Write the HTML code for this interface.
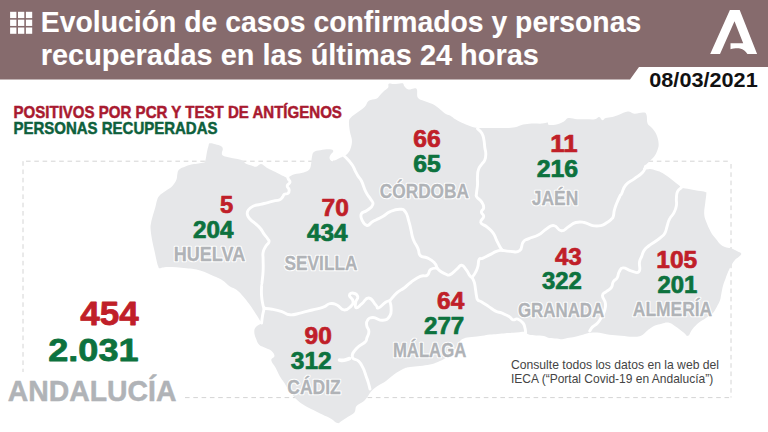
<!DOCTYPE html>
<html lang="es"><head><meta charset="utf-8"><title>Evolución de casos confirmados y personas recuperadas</title>
<style>
html,body{margin:0;padding:0;background:#fff;}
body{width:768px;height:432px;overflow:hidden;}
svg{display:block;font-family:"Liberation Sans",Arial,sans-serif;}
</style></head><body>
<svg width="768" height="432" viewBox="0 0 768 432">
<path d="M0 0H768V67H639L630 79.5H0Z" fill="#866b6d"/>
<rect x="10.1" y="11.80" width="6.3" height="6.3" fill="#fff"/>
<rect x="18.0" y="11.80" width="6.3" height="6.3" fill="#fff"/>
<rect x="25.9" y="11.80" width="6.3" height="6.3" fill="#fff"/>
<rect x="10.1" y="19.65" width="6.3" height="6.3" fill="#fff"/>
<rect x="18.0" y="19.65" width="6.3" height="6.3" fill="#fff"/>
<rect x="25.9" y="19.65" width="6.3" height="6.3" fill="#fff"/>
<rect x="10.1" y="27.50" width="6.3" height="6.3" fill="#fff"/>
<rect x="18.0" y="27.50" width="6.3" height="6.3" fill="#fff"/>
<rect x="25.9" y="27.50" width="6.3" height="6.3" fill="#fff"/>
<path d="M729.9 10.1H739.7L757.1 54H747.4C745.5 51 743.5 49.2 740 48.5C737 48 733 48.6 730.5 49.2V43.3H743.2L734.5 21.3L720 54H710.2Z" fill="#fff"/>
<path d="M26 161.2H731M23 161.2V372M731 164V397.5M185 397.6H731" fill="none" stroke="#d4d4d4" stroke-width="1" stroke-dasharray="4.6 3.7"/>
<path d="M158.5 267.1C158.0 266.0 157.8 265.7 157.0 262.5C156.2 259.3 155.5 255.6 154.5 251.0C153.5 246.4 152.8 243.8 152.0 239.4C151.2 235.0 150.8 232.2 150.6 229.0C150.4 225.8 150.5 226.0 151.0 223.2C151.5 220.4 152.1 218.3 153.0 215.1C153.9 211.9 154.6 209.9 155.4 207.0C156.2 204.1 156.2 202.8 157.0 200.5C157.8 198.2 157.6 197.6 159.4 195.7C161.2 193.8 163.3 192.8 165.9 190.8C168.5 188.8 170.3 188.2 172.4 185.9C174.5 183.6 175.5 181.7 176.5 179.4C177.5 177.1 176.8 176.5 177.3 174.6C177.8 172.7 177.3 171.3 178.9 169.7C180.5 168.1 182.9 167.5 185.4 166.5C187.9 165.5 189.0 165.2 191.3 164.6C193.6 164.0 194.7 164.1 196.9 163.7C199.1 163.3 200.7 163.4 202.4 162.8C204.1 162.2 204.3 163.1 205.2 160.9C206.1 158.7 206.3 154.7 207.0 151.7C207.7 148.7 207.9 147.7 208.5 146.0C209.1 144.3 208.4 143.6 209.8 143.3C211.2 143.0 213.2 143.7 215.4 144.3C217.6 144.9 219.4 145.2 220.9 146.1C222.4 147.0 222.6 147.6 222.8 148.9C223.0 150.2 221.9 151.3 221.9 152.6C221.9 153.9 221.5 154.5 222.8 155.4C224.1 156.3 225.3 156.5 228.3 157.2C231.3 157.9 234.6 158.4 237.6 159.1C240.6 159.8 241.4 160.0 243.1 160.9C244.8 161.8 244.2 162.8 245.9 163.7C247.6 164.6 249.5 165.0 251.5 165.6C253.5 166.2 254.2 167.1 256.1 166.8C258.0 166.5 259.0 163.9 261.1 164.1C263.2 164.3 264.5 166.5 266.7 167.8C268.9 169.1 270.0 169.5 272.2 170.6C274.4 171.7 275.6 172.2 277.8 173.3C280.0 174.4 281.4 175.3 283.3 176.1C285.2 176.9 285.3 177.9 287.5 177.5C289.7 177.1 291.2 175.3 294.4 174.3C297.6 173.3 300.7 173.3 303.7 172.4C306.7 171.5 307.8 171.3 309.3 169.6C310.8 167.9 310.6 166.7 311.1 164.1C311.6 161.5 311.4 159.1 312.0 156.7C312.6 154.3 312.2 153.3 313.9 152.0C315.6 150.7 317.3 150.7 320.4 150.2C323.5 149.7 327.0 149.1 329.6 149.3C332.2 149.5 333.1 150.0 333.3 151.1C333.5 152.2 331.3 153.3 330.6 154.8C329.9 156.3 329.2 157.2 329.6 158.5C330.0 159.8 330.9 161.1 332.4 161.3C333.9 161.5 335.3 160.1 337.0 159.4C338.7 158.7 339.2 158.3 340.7 157.6C342.2 156.9 342.9 156.6 344.4 155.7C345.9 154.8 346.8 154.7 348.1 153.0C349.4 151.3 350.1 150.0 350.9 147.4C351.7 144.8 352.1 143.1 351.9 140.0C351.7 136.9 350.6 135.7 350.0 132.0C349.4 128.3 348.8 124.6 349.0 121.7C349.2 118.8 349.5 119.2 351.0 117.5C352.5 115.8 353.6 115.4 356.3 113.3C359.0 111.2 362.1 109.5 364.6 107.0C367.1 104.5 366.5 102.4 368.8 100.8C371.1 99.2 374.0 100.0 376.3 98.8C378.6 97.6 378.7 96.4 380.4 94.7C382.1 93.0 383.0 92.0 384.6 90.5C386.2 89.0 387.4 88.8 388.2 87.4C389.0 86.0 387.6 84.4 388.8 83.7C390.0 83.0 391.5 84.1 394.0 84.0C396.5 83.9 399.4 83.3 401.3 83.2C403.2 83.1 402.7 83.1 403.3 83.7C403.9 84.3 403.4 85.1 404.4 86.3C405.4 87.5 406.6 89.1 408.5 89.5C410.4 89.9 412.1 88.4 413.8 88.4C415.5 88.4 416.1 87.6 416.9 89.5C417.7 91.4 416.4 95.5 417.9 97.8C419.4 100.1 421.3 99.7 424.2 100.9C427.1 102.1 429.6 102.5 432.5 104.0C435.4 105.5 436.3 106.3 438.8 108.2C441.3 110.1 442.8 111.9 445.0 113.4C447.2 114.9 447.8 114.3 450.0 115.5C452.2 116.7 453.0 117.9 455.8 119.6C458.6 121.3 460.9 122.3 464.2 123.8C467.5 125.3 469.6 126.1 472.5 126.9C475.4 127.7 475.3 127.7 478.8 127.9C482.3 128.1 486.1 127.9 490.0 127.9C493.9 127.9 494.5 127.9 498.3 127.9C502.1 127.9 505.0 128.1 508.8 127.9C512.6 127.7 514.2 127.4 517.1 126.7C520.0 126.0 520.4 125.2 523.3 124.6C526.2 124.0 528.0 123.7 531.7 123.5C535.4 123.3 538.8 123.8 542.0 123.6C545.2 123.4 546.2 122.3 547.5 122.5C548.8 122.7 547.1 124.3 548.6 124.7C550.1 125.1 552.1 125.4 555.2 124.7C558.3 124.0 561.4 122.7 564.0 121.4C566.6 120.1 565.8 118.5 568.4 118.1C571.0 117.7 573.7 119.0 577.2 119.2C580.7 119.4 582.5 119.2 586.0 119.2C589.5 119.2 592.2 119.6 594.8 119.2C597.4 118.8 597.7 116.8 599.2 117.0C600.7 117.2 601.2 120.1 602.5 120.3C603.8 120.5 603.8 118.8 605.8 118.1C607.8 117.4 609.8 117.7 612.4 117.0C615.0 116.3 615.9 115.9 619.0 114.8C622.1 113.7 624.7 111.7 627.8 111.5C630.9 111.3 631.3 113.5 634.4 113.7C637.5 113.9 640.8 112.4 643.2 112.6C645.6 112.8 645.6 112.6 646.5 114.8C647.4 117.0 646.5 121.0 647.6 123.6C648.7 126.2 650.2 125.8 652.0 128.0C653.8 130.2 655.1 131.5 656.4 134.6C657.7 137.7 658.4 140.3 658.6 143.4C658.8 146.5 658.4 147.4 657.5 150.0C656.6 152.6 655.7 154.4 654.2 156.6C652.7 158.8 651.6 159.2 649.8 161.0C648.0 162.8 646.7 163.6 645.4 165.4C644.1 167.2 642.3 169.1 643.2 169.8C644.1 170.5 647.4 168.9 650.0 169.0C652.6 169.1 653.5 169.7 656.0 170.5C658.5 171.3 659.1 171.1 662.5 173.1C665.9 175.1 669.6 177.9 672.9 180.4C676.2 182.9 677.5 184.1 679.2 185.6C680.9 187.1 679.6 187.1 681.3 187.7C683.0 188.3 684.2 188.2 687.5 188.8C690.8 189.4 694.4 190.2 697.9 190.8C701.4 191.4 703.5 191.3 705.2 191.9C706.9 192.5 706.3 191.7 706.3 194.0C706.3 196.3 705.6 199.3 705.2 203.3C704.8 207.3 704.0 210.0 704.2 213.8C704.4 217.6 705.0 218.5 706.3 222.1C707.6 225.7 708.9 228.5 710.8 231.9C712.7 235.3 713.9 236.3 716.0 238.9C718.1 241.5 719.1 243.3 721.2 245.0C723.3 246.7 724.3 246.8 726.4 247.5C728.5 248.2 729.5 247.7 731.6 248.4C733.7 249.1 734.9 250.0 736.8 251.0C738.7 252.0 740.8 252.4 741.2 253.6C741.6 254.8 739.8 255.9 738.6 257.1C737.4 258.3 736.5 258.1 735.1 259.7C733.7 261.3 733.0 262.5 731.6 264.9C730.2 267.3 729.3 269.0 728.1 271.8C726.9 274.6 726.5 276.0 725.5 278.8C724.5 281.6 723.9 282.6 723.0 285.7C722.1 288.8 721.8 291.4 721.2 294.4C720.6 297.4 720.8 298.0 719.9 300.6C719.0 303.2 718.1 304.6 716.6 307.2C715.1 309.8 714.4 311.6 712.2 313.8C710.0 316.0 708.2 316.4 705.6 318.2C703.0 320.0 701.6 320.4 699.0 322.6C696.4 324.8 694.6 326.6 692.4 329.2C690.2 331.8 689.8 335.1 688.0 335.8C686.2 336.5 686.2 334.5 683.6 332.5C681.0 330.5 677.9 327.9 674.8 325.9C671.7 323.9 670.8 323.0 668.2 322.6C665.6 322.2 664.2 323.1 661.6 323.7C659.0 324.3 657.3 324.5 655.0 325.5C652.7 326.5 651.6 327.4 650.0 328.5C648.4 329.6 648.6 329.5 646.8 331.0C645.0 332.5 643.8 334.6 641.0 335.8C638.2 337.0 637.0 336.8 633.0 336.8C629.0 336.8 625.9 336.2 621.2 335.8C616.5 335.4 613.7 335.4 609.4 334.8C605.1 334.2 603.2 333.2 599.5 332.8C595.8 332.4 594.0 332.4 590.7 332.8C587.4 333.2 586.0 333.9 582.9 334.7C579.8 335.5 578.2 336.0 575.1 336.7C572.0 337.4 569.9 337.5 567.3 338.0C564.7 338.5 564.2 339.2 562.1 339.3C560.0 339.4 559.5 338.9 556.9 338.6C554.3 338.3 551.7 338.5 549.1 338.0C546.5 337.5 546.5 336.5 543.9 336.0C541.3 335.5 538.9 335.7 536.0 335.4C533.1 335.1 531.6 335.2 529.5 334.7C527.4 334.2 526.6 333.4 525.6 332.8C524.6 332.2 526.9 331.8 524.4 331.8C521.9 331.8 517.1 332.5 513.3 332.8C509.5 333.1 508.6 333.0 505.5 333.2C502.4 333.4 500.8 333.6 497.7 333.9C494.6 334.2 493.0 334.1 489.9 334.5C486.8 334.9 485.7 335.3 482.1 335.8C478.5 336.3 475.3 336.6 471.7 337.1C468.1 337.6 466.2 337.6 463.9 338.4C461.6 339.2 461.3 339.4 460.0 341.0C458.7 342.6 458.9 343.9 457.3 346.3C455.7 348.7 454.4 350.5 452.1 352.8C449.8 355.1 448.5 356.2 445.6 358.0C442.7 359.8 440.9 360.6 437.8 361.9C434.7 363.2 433.6 363.7 430.0 364.5C426.4 365.3 424.0 365.5 420.0 366.0C416.0 366.5 413.4 366.4 410.0 367.0C406.6 367.6 406.2 367.5 403.0 369.0C399.8 370.5 397.4 372.1 394.0 374.5C390.6 376.9 389.2 378.7 386.0 381.0C382.8 383.3 380.9 383.8 378.0 385.8C375.1 387.8 373.7 388.7 371.5 391.0C369.3 393.3 368.7 395.3 367.0 397.5C365.3 399.7 365.1 400.1 363.0 401.8C360.9 403.5 358.2 403.9 356.5 406.0C354.8 408.1 356.1 410.3 354.4 412.4C352.7 414.5 350.6 415.0 348.0 416.7C345.4 418.4 343.7 419.7 341.6 421.0C339.5 422.3 339.5 423.5 337.4 423.1C335.3 422.7 334.0 420.5 331.0 418.8C328.0 417.1 325.8 416.3 322.4 414.6C319.0 412.9 317.3 412.0 313.9 410.3C310.5 408.6 308.8 408.1 305.4 406.0C302.0 403.9 300.1 402.7 296.9 399.7C293.7 396.7 292.0 394.5 289.4 391.1C286.8 387.7 286.0 385.6 284.1 382.6C282.2 379.6 281.5 379.2 279.8 376.2C278.1 373.2 277.3 370.9 275.6 367.7C273.9 364.5 271.5 362.5 271.3 360.2C271.1 357.9 274.5 357.9 274.5 356.0C274.5 354.1 273.1 352.3 271.3 350.7C269.5 349.1 268.1 349.2 265.7 348.0C263.3 346.8 261.2 346.7 259.2 344.8C257.2 342.9 256.9 340.9 255.9 338.3C254.9 335.7 254.3 334.2 254.3 331.9C254.3 329.6 254.4 328.8 255.9 327.0C257.4 325.2 260.8 324.3 261.6 323.0C262.4 321.7 261.1 322.3 260.0 320.5C258.9 318.7 258.0 317.2 255.9 314.0C253.8 310.8 252.0 307.9 249.4 304.3C246.8 300.7 245.6 299.1 243.0 296.2C240.4 293.3 239.1 291.6 236.5 289.7C233.9 287.8 232.9 288.4 230.0 286.5C227.1 284.6 225.2 282.0 222.0 280.0C218.8 278.0 218.4 278.2 214.0 276.3C209.6 274.4 205.7 272.1 200.2 270.5C194.7 268.9 192.8 268.9 186.3 268.2C179.8 267.5 173.1 267.0 167.8 267.0C162.5 267.0 161.6 268.2 159.7 268.2C157.8 268.2 159.0 268.2 158.5 267.1Z" fill="#e6e7e9"/>
<path d="M287.2 174.8C287.4 175.8 287.4 176.5 288.1 178.5C288.8 180.5 290.2 180.2 290.0 182.2C289.8 184.2 287.4 183.9 287.2 185.9C287.0 187.9 288.9 187.6 289.1 189.6C289.3 191.6 289.4 192.0 288.1 193.3C286.8 194.6 285.9 193.3 284.4 194.3C282.9 195.3 283.8 195.5 282.6 197.0C281.4 198.5 281.8 198.8 279.8 199.8C277.8 200.8 278.4 200.0 275.2 200.7C272.0 201.4 271.7 201.6 267.8 202.6C263.9 203.6 264.3 203.4 260.4 204.4C256.5 205.4 256.2 204.8 253.0 206.3C249.8 207.8 249.8 207.8 248.3 210.0C246.8 212.2 246.9 212.1 247.4 214.6C247.9 217.1 248.0 216.8 250.2 219.3C252.4 221.8 253.0 221.4 255.7 223.9C258.4 226.4 258.2 225.8 260.4 228.5C262.6 231.2 262.1 231.3 264.1 234.1C266.1 236.9 266.5 236.9 267.8 239.0C269.1 241.1 269.5 240.0 268.9 242.1C268.3 244.2 267.0 243.9 265.5 246.7C264.0 249.5 263.7 249.1 263.1 252.5C262.5 255.9 263.1 254.5 263.1 259.4C263.1 264.3 263.4 264.8 263.1 271.0C262.8 277.2 262.4 278.5 262.0 282.6C261.6 286.7 261.7 282.9 261.6 286.5C261.5 290.1 261.2 291.0 261.6 296.2C262.0 301.4 262.6 302.7 263.2 306.0C263.8 309.3 264.2 305.7 264.0 308.4C263.8 311.1 263.1 312.1 262.5 316.0C261.9 319.9 261.8 321.1 261.6 323.0" fill="none" stroke="#fff" stroke-width="2.9" stroke-linejoin="round" stroke-linecap="round"/>
<path d="M264.0 308.4C266.2 308.6 267.3 308.3 272.1 309.2C276.9 310.1 277.1 310.1 281.9 311.6C286.7 313.1 284.9 314.5 290.0 314.8C295.1 315.1 295.2 314.1 301.1 312.8C307.0 311.5 306.3 311.5 312.2 310.0C318.1 308.5 318.6 308.9 323.3 307.2C328.0 305.5 326.3 304.2 330.0 303.6C333.7 303.0 333.3 303.3 337.0 305.0C340.7 306.7 340.2 309.5 343.9 309.9C347.6 310.3 348.4 308.8 350.8 306.4C353.2 304.0 353.3 303.8 352.9 300.8C352.5 297.8 349.2 297.3 349.4 295.3C349.6 293.3 351.4 292.8 353.6 293.2C355.8 293.6 357.2 294.3 357.8 296.7C358.4 299.1 356.1 299.2 355.7 302.2C355.3 305.2 354.7 307.4 356.4 307.8C358.1 308.2 358.7 306.2 362.0 303.6C365.3 301.0 365.2 297.6 368.9 298.0C372.6 298.4 373.2 302.4 375.8 305.0C378.4 307.6 376.0 308.5 378.6 307.8C381.2 307.1 382.6 304.1 385.6 302.2C388.6 300.3 388.6 301.2 389.7 300.8" fill="none" stroke="#fff" stroke-width="2.9" stroke-linejoin="round" stroke-linecap="round"/>
<path d="M389.7 300.8C391.7 298.6 393.3 296.0 397.1 292.6C400.9 289.2 400.4 290.8 404.1 288.0C407.8 285.2 406.7 285.3 411.0 282.2C415.3 279.1 416.0 278.3 420.3 276.4C424.6 274.5 424.4 277.1 427.2 275.2C430.0 273.3 428.1 271.3 430.7 269.4C433.3 267.5 435.3 268.4 437.0 268.0" fill="none" stroke="#fff" stroke-width="2.9" stroke-linejoin="round" stroke-linecap="round"/>
<path d="M344.3 156.0C345.5 157.2 346.5 157.9 348.7 160.5C350.9 163.1 350.9 162.9 352.6 165.6C354.3 168.3 353.7 167.8 355.1 170.6C356.5 173.4 356.3 173.2 358.0 176.0C359.7 178.8 359.4 176.7 361.5 181.0C363.6 185.3 363.6 187.4 366.0 192.2C368.4 197.0 368.7 195.7 370.5 199.0C372.3 202.3 373.7 201.6 372.8 204.6C371.9 207.6 370.1 207.9 367.0 210.4C363.9 212.9 362.5 211.1 361.3 213.9C360.1 216.7 360.9 217.7 362.4 220.8C363.9 223.9 364.4 225.2 367.0 225.5C369.6 225.8 369.5 223.5 372.0 222.0C374.5 220.5 373.3 221.2 376.3 219.7C379.3 218.2 379.5 218.4 383.2 216.2C386.9 214.0 385.9 213.4 390.2 211.6C394.5 209.8 395.4 209.3 399.4 209.3C403.4 209.3 402.7 208.5 405.2 211.6C407.7 214.7 407.2 215.9 408.7 220.8C410.2 225.7 409.8 225.1 411.0 230.1C412.2 235.1 411.4 234.5 413.3 239.4C415.2 244.3 416.1 244.3 418.0 248.6C419.9 252.9 417.8 253.1 420.3 255.6C422.8 258.1 423.5 256.1 427.2 257.9C430.9 259.7 431.6 259.8 434.2 262.5C436.8 265.2 436.3 266.5 437.0 268.0" fill="none" stroke="#fff" stroke-width="2.9" stroke-linejoin="round" stroke-linecap="round"/>
<path d="M437.0 268.0C438.0 268.9 438.5 269.9 440.8 271.5C443.1 273.1 443.2 273.3 445.7 274.1C448.2 274.9 447.1 276.0 450.1 274.6C453.1 273.2 454.0 271.3 457.1 268.8C460.2 266.3 459.2 265.0 461.7 265.3C464.2 265.6 464.1 267.1 466.3 269.9C468.5 272.7 468.3 273.7 469.8 275.7C471.3 277.7 471.5 277.0 472.1 277.5" fill="none" stroke="#fff" stroke-width="2.9" stroke-linejoin="round" stroke-linecap="round"/>
<path d="M472.1 277.5C473.0 276.1 474.1 275.2 475.6 272.2C477.1 269.2 477.0 269.8 477.9 266.4C478.8 263.0 477.9 261.7 479.1 259.5C480.3 257.3 479.7 259.5 482.5 258.3C485.3 257.1 485.8 256.7 489.5 254.9C493.2 253.1 493.0 252.7 496.4 251.4C499.8 250.1 500.7 250.5 502.2 250.2" fill="none" stroke="#fff" stroke-width="2.9" stroke-linejoin="round" stroke-linecap="round"/>
<path d="M502.2 250.2C501.6 249.3 501.4 249.6 499.9 246.8C498.4 244.0 498.2 243.5 496.4 239.8C494.6 236.1 495.5 236.3 493.0 232.9C490.5 229.5 490.5 229.9 487.2 227.1C483.9 224.3 481.6 225.2 480.7 222.4C479.8 219.6 483.5 219.4 483.7 216.6C483.9 213.8 481.4 214.5 481.4 212.0C481.4 209.5 483.7 210.2 483.7 207.4C483.7 204.6 483.2 204.4 481.4 201.6C479.6 198.8 478.1 199.1 476.8 196.9C475.5 194.7 476.3 196.5 476.5 193.3C476.7 190.1 477.2 189.4 477.5 185.0C477.8 180.6 477.2 180.9 477.5 176.7C477.8 172.5 477.4 172.7 478.5 169.4C479.6 166.1 480.0 166.7 481.7 164.2C483.4 161.7 483.7 162.8 484.8 160.0C485.9 157.2 485.8 157.1 485.8 153.8C485.8 150.5 485.3 151.4 484.8 147.5C484.3 143.6 484.6 143.1 483.8 139.2C483.0 135.3 483.4 135.7 481.7 132.9C480.0 130.1 478.6 129.9 477.5 128.8" fill="none" stroke="#fff" stroke-width="2.9" stroke-linejoin="round" stroke-linecap="round"/>
<path d="M502.2 250.2C504.4 250.5 505.7 251.3 510.3 251.4C514.9 251.5 516.2 253.2 519.6 250.7C523.0 248.2 520.6 245.3 523.1 242.1C525.6 238.9 524.8 240.5 528.9 238.6C533.0 236.7 533.6 237.6 538.3 235.0C543.0 232.4 542.5 231.3 546.7 228.8C550.9 226.3 550.1 225.1 554.0 225.6C557.9 226.1 557.4 230.5 561.3 230.8C565.2 231.1 564.6 228.9 568.5 226.7C572.4 224.5 571.6 223.6 575.8 222.5C580.0 221.4 579.7 221.7 584.2 222.5C588.7 223.3 588.1 224.8 592.5 225.6C596.9 226.4 596.9 226.4 600.8 225.6C604.7 224.8 604.2 224.3 607.1 222.5C610.0 220.7 609.8 220.7 611.5 219.0C613.2 217.3 612.5 218.7 613.3 216.3C614.1 213.9 613.5 213.3 614.4 210.0C615.3 206.7 615.0 207.5 616.5 203.8C618.0 200.1 618.6 198.8 620.0 196.0C621.4 193.2 620.2 196.2 621.7 193.3C623.2 190.4 622.5 188.9 625.8 185.0C629.1 181.1 629.7 182.1 634.2 178.8C638.7 175.5 639.5 175.8 642.5 172.5C645.5 169.2 644.8 168.0 645.6 166.3" fill="none" stroke="#fff" stroke-width="2.9" stroke-linejoin="round" stroke-linecap="round"/>
<path d="M472.1 277.5C472.7 278.9 473.5 279.4 474.4 282.7C475.3 286.0 475.0 286.5 475.6 290.0C476.2 293.5 475.9 293.3 476.5 296.0C477.1 298.7 476.4 298.4 477.8 300.0C479.2 301.6 478.8 300.2 481.7 302.0C484.6 303.8 485.1 304.2 488.8 306.6C492.5 309.0 492.1 309.3 495.6 311.1C499.1 312.9 498.3 311.7 502.0 313.2C505.7 314.7 506.5 314.9 509.4 316.7C512.3 318.5 510.8 319.2 513.0 319.8C515.2 320.4 515.1 318.2 517.8 319.1C520.5 320.0 521.1 320.6 523.0 323.0C524.9 325.4 524.3 325.6 525.0 328.2C525.7 330.8 525.4 331.6 525.6 332.8" fill="none" stroke="#fff" stroke-width="2.9" stroke-linejoin="round" stroke-linecap="round"/>
<path d="M681.3 187.7C680.3 188.7 678.8 188.7 677.5 191.6C676.2 194.5 676.7 194.8 676.4 198.5C676.1 202.2 677.0 201.8 676.4 205.5C675.8 209.2 676.0 208.7 674.1 212.4C672.2 216.1 671.3 215.7 669.4 219.4C667.5 223.1 668.3 222.6 667.1 226.3C665.9 230.0 666.6 230.1 664.8 233.2C663.0 236.3 662.7 235.7 660.2 237.9C657.7 240.1 658.7 239.1 655.6 241.3C652.5 243.5 651.7 243.5 648.6 246.0C645.5 248.5 645.8 247.8 644.0 250.6C642.2 253.4 642.9 253.4 641.7 256.4C640.5 259.4 640.2 257.9 639.5 262.0C638.8 266.1 641.2 269.5 638.9 271.8C636.6 274.1 635.2 271.8 631.0 270.8C626.8 269.8 626.2 267.6 623.1 267.9C620.0 268.2 620.8 269.2 619.2 271.8C617.6 274.4 618.8 275.1 617.2 277.7C615.6 280.3 614.9 279.1 613.3 281.7C611.7 284.3 613.1 285.0 611.3 287.6C609.5 290.2 608.7 289.4 606.4 291.5C604.1 293.6 602.8 292.3 602.5 295.4C602.2 298.5 604.9 299.1 605.4 303.3C605.9 307.5 605.4 307.5 604.4 311.2C603.4 314.9 603.3 314.0 601.5 317.1C599.7 320.2 600.0 320.4 597.6 323.0C595.2 325.6 594.7 324.8 592.6 326.9C590.5 329.0 590.5 329.9 589.7 331.0" fill="none" stroke="#fff" stroke-width="2.9" stroke-linejoin="round" stroke-linecap="round"/>
<path d="M389.7 300.8C390.1 302.7 391.1 303.7 391.1 307.8C391.1 311.9 391.9 312.8 389.7 316.1C387.5 319.4 387.3 319.9 382.8 320.3C378.3 320.7 377.1 317.5 373.0 317.5C368.9 317.5 369.2 318.1 367.5 320.3C365.8 322.5 366.4 322.8 366.8 325.8C367.2 328.8 368.9 328.1 368.9 331.4C368.9 334.7 367.8 335.4 366.8 338.3C365.8 341.2 367.7 339.4 365.0 342.1C362.3 344.8 359.9 344.5 356.5 348.5C353.1 352.5 351.7 353.6 352.3 357.0C352.9 360.4 355.9 358.4 358.7 361.3C361.5 364.2 360.9 363.7 362.9 367.7C364.9 371.7 364.7 372.2 366.1 376.2C367.5 380.2 367.3 379.2 368.3 382.6C369.3 386.0 369.5 387.3 370.0 389.0" fill="none" stroke="#fff" stroke-width="2.9" stroke-linejoin="round" stroke-linecap="round"/>
<path d="M339.5 360.0C340.7 360.1 341.3 360.6 344.0 360.2C346.7 359.8 348.0 359.0 349.5 358.5" fill="none" stroke="#fff" stroke-width="3.6" stroke-linejoin="round" stroke-linecap="round"/>
<text x="40.79" y="32.2" font-size="30.4" font-weight="bold" textLength="600.41" lengthAdjust="spacingAndGlyphs" fill="#fff" stroke="#fff" stroke-width="0.1" stroke-linejoin="round">Evolución de casos confirmados y personas</text>
<text x="40.79" y="65.4" font-size="30.4" font-weight="bold" textLength="498.02" lengthAdjust="spacingAndGlyphs" fill="#fff" stroke="#fff" stroke-width="0.1" stroke-linejoin="round">recuperadas en las últimas 24 horas</text>
<text x="649.29" y="86.5" font-size="20.5" font-weight="bold" textLength="108.41" lengthAdjust="spacingAndGlyphs" fill="#111">08/03/2021</text>
<text x="13.49" y="117.7" font-size="16.7" font-weight="bold" textLength="328.41" lengthAdjust="spacingAndGlyphs" fill="#a91a30" stroke="#a91a30" stroke-width="0.5" stroke-linejoin="round">POSITIVOS POR PCR Y TEST DE ANTÍGENOS</text>
<text x="13.5" y="133.7" font-size="16.7" font-weight="bold" textLength="204.0" lengthAdjust="spacingAndGlyphs" fill="#0e603c" stroke="#0e603c" stroke-width="0.5" stroke-linejoin="round">PERSONAS RECUPERADAS</text>
<text x="219.95" y="212.8" font-size="23.0" font-weight="bold" textLength="13.22" lengthAdjust="spacingAndGlyphs" fill="#c01f29" stroke="#c01f29" stroke-width="0.7" stroke-linejoin="round">5</text>
<text x="193.0" y="237.8" font-size="23.0" font-weight="bold" textLength="40.4" lengthAdjust="spacingAndGlyphs" fill="#0d723e" stroke="#0d723e" stroke-width="0.7" stroke-linejoin="round">204</text>
<text x="321.63" y="216" font-size="23.0" font-weight="bold" textLength="27.31" lengthAdjust="spacingAndGlyphs" fill="#c01f29" stroke="#c01f29" stroke-width="0.7" stroke-linejoin="round">70</text>
<text x="307.0" y="241" font-size="23.0" font-weight="bold" textLength="40.61" lengthAdjust="spacingAndGlyphs" fill="#0d723e" stroke="#0d723e" stroke-width="0.7" stroke-linejoin="round">434</text>
<text x="413.25" y="146.6" font-size="23.0" font-weight="bold" textLength="27.46" lengthAdjust="spacingAndGlyphs" fill="#c01f29" stroke="#c01f29" stroke-width="0.7" stroke-linejoin="round">66</text>
<text x="413.25" y="171.6" font-size="23.0" font-weight="bold" textLength="27.46" lengthAdjust="spacingAndGlyphs" fill="#0d723e" stroke="#0d723e" stroke-width="0.7" stroke-linejoin="round">65</text>
<text x="550.33" y="151.5" font-size="23.0" font-weight="bold" textLength="27.31" lengthAdjust="spacingAndGlyphs" fill="#c01f29" stroke="#c01f29" stroke-width="0.7" stroke-linejoin="round">11</text>
<text x="536.7" y="177" font-size="23.0" font-weight="bold" textLength="41.41" lengthAdjust="spacingAndGlyphs" fill="#0d723e" stroke="#0d723e" stroke-width="0.7" stroke-linejoin="round">216</text>
<text x="554.9" y="264.5" font-size="23.0" font-weight="bold" textLength="26.81" lengthAdjust="spacingAndGlyphs" fill="#c01f29" stroke="#c01f29" stroke-width="0.7" stroke-linejoin="round">43</text>
<text x="541.9" y="289.1" font-size="23.0" font-weight="bold" textLength="39.8" lengthAdjust="spacingAndGlyphs" fill="#0d723e" stroke="#0d723e" stroke-width="0.7" stroke-linejoin="round">322</text>
<text x="656.36" y="268" font-size="23.0" font-weight="bold" textLength="40.85" lengthAdjust="spacingAndGlyphs" fill="#c01f29" stroke="#c01f29" stroke-width="0.7" stroke-linejoin="round">105</text>
<text x="657.4" y="293.1" font-size="23.0" font-weight="bold" textLength="39.8" lengthAdjust="spacingAndGlyphs" fill="#0d723e" stroke="#0d723e" stroke-width="0.7" stroke-linejoin="round">201</text>
<text x="437.08" y="308.5" font-size="23.0" font-weight="bold" textLength="27.21" lengthAdjust="spacingAndGlyphs" fill="#c01f29" stroke="#c01f29" stroke-width="0.7" stroke-linejoin="round">64</text>
<text x="424.0" y="333.5" font-size="23.0" font-weight="bold" textLength="40.2" lengthAdjust="spacingAndGlyphs" fill="#0d723e" stroke="#0d723e" stroke-width="0.7" stroke-linejoin="round">277</text>
<text x="304.6" y="344.1" font-size="23.0" font-weight="bold" textLength="27.21" lengthAdjust="spacingAndGlyphs" fill="#c01f29" stroke="#c01f29" stroke-width="0.7" stroke-linejoin="round">90</text>
<text x="290.8" y="368.7" font-size="23.0" font-weight="bold" textLength="40.8" lengthAdjust="spacingAndGlyphs" fill="#0d723e" stroke="#0d723e" stroke-width="0.7" stroke-linejoin="round">312</text>
<text x="80.3" y="325.2" font-size="32.6" font-weight="bold" textLength="58.4" lengthAdjust="spacingAndGlyphs" fill="#c01f29" stroke="#c01f29" stroke-width="0.7999999999999999" stroke-linejoin="round">454</text>
<text x="48.29" y="361.2" font-size="32.2" font-weight="bold" textLength="90.21" lengthAdjust="spacingAndGlyphs" fill="#0d723e" stroke="#0d723e" stroke-width="0.7999999999999999" stroke-linejoin="round">2.031</text>
<text x="173.68" y="260.5" font-size="19.4" font-weight="bold" textLength="71.62" lengthAdjust="spacingAndGlyphs" fill="#fff" stroke="#fff" stroke-width="2.6" stroke-linejoin="round">HUELVA</text><text x="173.68" y="260.5" font-size="19.4" font-weight="bold" textLength="71.62" lengthAdjust="spacingAndGlyphs" fill="#b0b3b7" stroke="#b0b3b7" stroke-width="0.3" stroke-linejoin="round">HUELVA</text>
<text x="284.6" y="270.4" font-size="19.4" font-weight="bold" textLength="72.8" lengthAdjust="spacingAndGlyphs" fill="#fff" stroke="#fff" stroke-width="2.6" stroke-linejoin="round">SEVILLA</text><text x="284.6" y="270.4" font-size="19.4" font-weight="bold" textLength="72.8" lengthAdjust="spacingAndGlyphs" fill="#b0b3b7" stroke="#b0b3b7" stroke-width="0.3" stroke-linejoin="round">SEVILLA</text>
<text x="379.78" y="198.0" font-size="19.4" font-weight="bold" textLength="89.23" lengthAdjust="spacingAndGlyphs" fill="#fff" stroke="#fff" stroke-width="2.6" stroke-linejoin="round">CÓRDOBA</text><text x="379.78" y="198.0" font-size="19.4" font-weight="bold" textLength="89.23" lengthAdjust="spacingAndGlyphs" fill="#b0b3b7" stroke="#b0b3b7" stroke-width="0.3" stroke-linejoin="round">CÓRDOBA</text>
<text x="531.8" y="204.79999999999998" font-size="19.4" font-weight="bold" textLength="46.43" lengthAdjust="spacingAndGlyphs" fill="#fff" stroke="#fff" stroke-width="2.6" stroke-linejoin="round">JAÉN</text><text x="531.8" y="204.79999999999998" font-size="19.4" font-weight="bold" textLength="46.43" lengthAdjust="spacingAndGlyphs" fill="#b0b3b7" stroke="#b0b3b7" stroke-width="0.3" stroke-linejoin="round">JAÉN</text>
<text x="517.89" y="316.9" font-size="19.4" font-weight="bold" textLength="86.42" lengthAdjust="spacingAndGlyphs" fill="#fff" stroke="#fff" stroke-width="2.6" stroke-linejoin="round">GRANADA</text><text x="517.89" y="316.9" font-size="19.4" font-weight="bold" textLength="86.42" lengthAdjust="spacingAndGlyphs" fill="#b0b3b7" stroke="#b0b3b7" stroke-width="0.3" stroke-linejoin="round">GRANADA</text>
<text x="632.8" y="316.0" font-size="19.4" font-weight="bold" textLength="79.41" lengthAdjust="spacingAndGlyphs" fill="#fff" stroke="#fff" stroke-width="2.6" stroke-linejoin="round">ALMERÍA</text><text x="632.8" y="316.0" font-size="19.4" font-weight="bold" textLength="79.41" lengthAdjust="spacingAndGlyphs" fill="#b0b3b7" stroke="#b0b3b7" stroke-width="0.3" stroke-linejoin="round">ALMERÍA</text>
<text x="392.88" y="357.0" font-size="19.4" font-weight="bold" textLength="73.42" lengthAdjust="spacingAndGlyphs" fill="#fff" stroke="#fff" stroke-width="2.6" stroke-linejoin="round">MÁLAGA</text><text x="392.88" y="357.0" font-size="19.4" font-weight="bold" textLength="73.42" lengthAdjust="spacingAndGlyphs" fill="#b0b3b7" stroke="#b0b3b7" stroke-width="0.3" stroke-linejoin="round">MÁLAGA</text>
<text x="287.27" y="393.9" font-size="19.4" font-weight="bold" textLength="53.46" lengthAdjust="spacingAndGlyphs" fill="#fff" stroke="#fff" stroke-width="2.6" stroke-linejoin="round">CÁDIZ</text><text x="287.27" y="393.9" font-size="19.4" font-weight="bold" textLength="53.46" lengthAdjust="spacingAndGlyphs" fill="#b0b3b7" stroke="#b0b3b7" stroke-width="0.3" stroke-linejoin="round">CÁDIZ</text>
<text x="7.79" y="400.8" font-size="29.8" font-weight="bold" textLength="168.62" lengthAdjust="spacingAndGlyphs" fill="#fff" stroke="#fff" stroke-width="2.6" stroke-linejoin="round">ANDALUCÍA</text><text x="7.79" y="400.8" font-size="29.8" font-weight="bold" textLength="168.62" lengthAdjust="spacingAndGlyphs" fill="#b0b3b7" stroke="#b0b3b7" stroke-width="0.5" stroke-linejoin="round">ANDALUCÍA</text>
<text x="510.99" y="368.6" font-size="12.6" font-weight="normal" textLength="208.02" lengthAdjust="spacingAndGlyphs" fill="#444">Consulte todos los datos en la web del</text>
<text x="510.99" y="383" font-size="12.6" font-weight="normal" textLength="202.21" lengthAdjust="spacingAndGlyphs" fill="#444">IECA (“Portal Covid-19 en Andalucía”)</text>
</svg>
</body></html>
